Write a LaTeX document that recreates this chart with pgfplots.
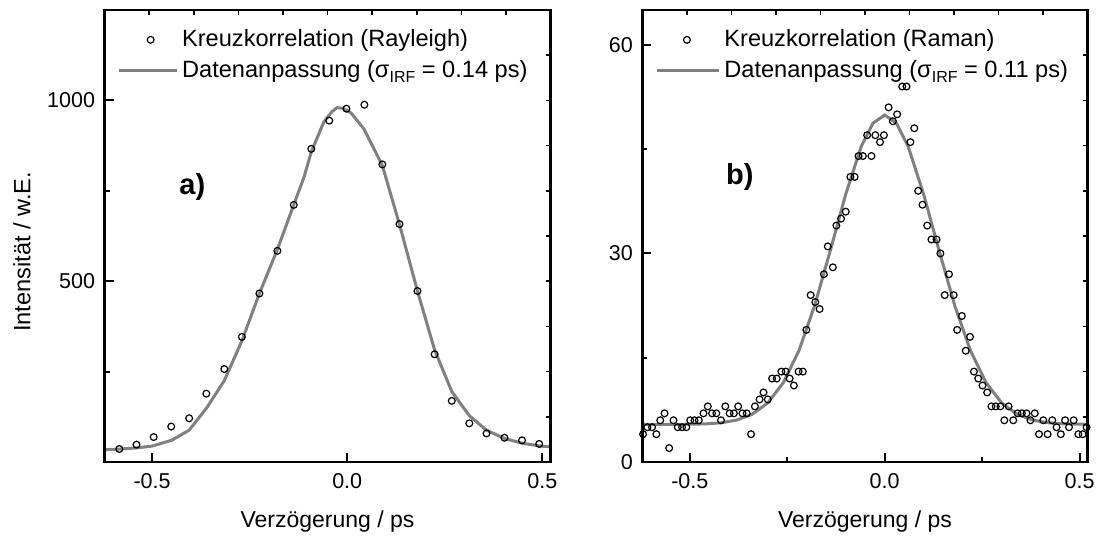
\documentclass[border=0pt]{standalone}
\usepackage{fontspec}
\setmainfont{Liberation Sans}
\usepackage{pgfplots}
\pgfplotsset{compat=1.18}
\definecolor{fitgray}{RGB}{128,128,128}

\newcommand{\sig}{σ\raisebox{-0.45ex}{\fontsize{8}{8}\selectfont IRF}}

\pgfplotsset{
  panel/.style={
    scale only axis,
    height=226pt,
    xmin=-0.622, xmax=0.521,
    axis line style={line width=1.25pt},
    every tick/.style={black, line width=1pt},
    major tick length=4.5pt, minor tick length=2.5pt,
    tick align=inside,
    /pgf/number format/assume math mode=true,
    ticklabel style={font=\fontsize{10.75}{12}\selectfont},
    xticklabel style={yshift=-2pt},
    yticklabel style={xshift=-1.2pt},
    xtick pos=left, ytick pos=left,
    xtick={-0.5,0,0.5}, xticklabels={-0.5,0.0,0.5},
    xlabel={Verzögerung / ps},
    every axis x label/.style={at={(axis description cs:0.5,0)}, anchor=base, yshift=-32.5pt,
      font=\fontsize{11.5}{13}\selectfont},
    legend cell align=left,
    legend style={anchor=north west, draw=none, fill=none, inner sep=0pt,
      font=\fontsize{11.8}{13}\selectfont, row sep=1.2pt,
      /tikz/every even column/.append style={column sep=2.8pt}},
  },
  overlay/.style={
    scale only axis,
    height=226pt,
    xmin=-0.622, xmax=0.521,
    axis line style={line width=1.25pt},
    every tick/.style={black, line width=0.8pt},
    major tick length=2.5pt,
    tick align=inside,
    xtick pos=right, ytick pos=right,
    xticklabels={}, yticklabels={},
    xtick={-0.5077,-0.3934,-0.2791,-0.1648,-0.0505,0.0638,0.1781,0.2924,0.4067},
  },
  fitline/.style={color=fitgray, line width=1.5pt},
  datapts/.style={only marks, mark=o, mark size=1.7pt, black, mark options={line width=0.6pt}},
  markleg/.style 2 args={legend image code/.code={%
    \draw[mark repeat=2,mark phase=2,##1] plot coordinates {(0pt,0pt) (#1,0pt) (#2,0pt)};}},
  lineleg/.style={legend image code/.code={\draw[##1] (0pt,0pt) -- (#1,0pt);}},
}

\begin{document}
\begin{tikzpicture}
\useasboundingbox (0,0) rectangle (551pt,268pt);

% ---------- a) Rayleigh
\begin{axis}[panel, at={(52.25pt,37pt)}, anchor=south west, width=223pt,
    ymin=0, ymax=1250,
    ytick={500,1000}, yticklabels={500,1000}, minor ytick={250,750},
    ylabel={Intensität / w.E.},
    every axis y label/.style={at={(axis description cs:-0.185,0.465)}, rotate=90, anchor=center,
      font=\fontsize{11.8}{13}\selectfont},
    legend style={at={(0.0274,0.966)}},
  ]
  \addplot[datapts, markleg={16pt}{29pt}]
  coordinates {
    (-0.584,36) (-0.540,48) (-0.496,69) (-0.451,98) (-0.405,121)
    (-0.361,189) (-0.315,257) (-0.270,346) (-0.225,466) (-0.179,584)
    (-0.137,711) (-0.092,866) (-0.046,944) (-0.002,977) (0.044,988)
    (0.090,823) (0.134,658) (0.180,473) (0.224,298) (0.268,169)
    (0.313,107) (0.357,79) (0.403,67) (0.448,60) (0.492,50)
  };
  \addlegendentry{Kreuzkorrelation (Rayleigh)}
  \addplot[fitline, lineleg={29pt}]
  coordinates {
    (-0.622,34) (-0.58,36) (-0.54,39) (-0.50,44) (-0.45,60) (-0.405,88)
    (-0.36,150) (-0.315,225) (-0.27,335) (-0.225,466) (-0.18,585)
    (-0.137,711) (-0.11,790) (-0.092,858) (-0.06,940) (-0.04,968)
    (-0.026,980) (-0.01,978) (0.01,965) (0.043,921) (0.09,820)
    (0.134,657) (0.18,473) (0.224,310) (0.268,195) (0.313,128)
    (0.357,88) (0.403,65) (0.448,52) (0.496,44) (0.521,42)
  };
  \addlegendentry{Datenanpassung (\sig{} = 0.14 ps)}
  \node[font=\bfseries\fontsize{14.5}{14.5}\selectfont] at (axis cs:-0.397,760) {a)};
\end{axis}
\begin{axis}[overlay, at={(52.25pt,37pt)}, anchor=south west, width=223pt,
    ymin=0, ymax=1250,
    ytick={125,250,375,500,625,750,875,1000,1125}]
\end{axis}

% ---------- b) Raman
\begin{axis}[panel, at={(321.15pt,37pt)}, anchor=south west, width=222.7pt,
    ymin=0, ymax=65,
    ytick={0,30,60}, yticklabels={0,30,60}, minor ytick={15,45},
    minor xtick={-0.25,0.25},
    legend style={at={(0.0285,0.966)}},
  ]
  \addplot[datapts, markleg={15pt}{31pt}]
  coordinates {
    (-0.620,4) (-0.609,5) (-0.597,5) (-0.586,4) (-0.576,6) (-0.565,7)
    (-0.553,2) (-0.542,6) (-0.531,5) (-0.520,5) (-0.509,5) (-0.499,6)
    (-0.488,6) (-0.477,6) (-0.465,7) (-0.454,8) (-0.443,7) (-0.432,7)
    (-0.420,6) (-0.409,8) (-0.398,7) (-0.387,7) (-0.376,8) (-0.365,7)
    (-0.354,7) (-0.343,4) (-0.333,8) (-0.321,9) (-0.311,10) (-0.300,9)
    (-0.289,12) (-0.277,12) (-0.265,13) (-0.254,13) (-0.244,12) (-0.233,11)
    (-0.221,13) (-0.210,13) (-0.201,19) (-0.190,24) (-0.178,23) (-0.167,22)
    (-0.156,27) (-0.146,31) (-0.133,28) (-0.124,34) (-0.112,35) (-0.100,36)
    (-0.088,41) (-0.077,41) (-0.067,44) (-0.056,44) (-0.045,47) (-0.034,44)
    (-0.024,47) (-0.012,46) (-0.002,47) (0.010,51) (0.021,49) (0.032,50)
    (0.045,54) (0.056,54) (0.066,46) (0.076,48) (0.086,39) (0.097,37)
    (0.109,34) (0.120,32) (0.133,32) (0.143,30) (0.154,24) (0.165,27)
    (0.177,24) (0.186,19) (0.198,21) (0.208,16) (0.219,18) (0.229,13)
    (0.240,12) (0.251,11) (0.263,10) (0.274,8) (0.285,8) (0.297,8)
    (0.307,6) (0.318,8) (0.330,6) (0.341,7) (0.352,7) (0.364,7)
    (0.374,6) (0.385,7) (0.396,4) (0.407,6) (0.418,4) (0.430,6)
    (0.441,5) (0.452,4) (0.463,6) (0.473,5) (0.485,6) (0.497,4)
    (0.508,4) (0.518,5)
  };
  \addlegendentry{Kreuzkorrelation (Raman)}
  \addplot[fitline, lineleg={31pt}]
  coordinates {
    (-0.622,5.40) (-0.52,5.42) (-0.46,5.48) (-0.42,5.64) (-0.38,6.02)
    (-0.34,6.86) (-0.30,8.50) (-0.26,11.42) (-0.22,16.03) (-0.18,22.46)
    (-0.14,30.32) (-0.10,38.50) (-0.06,45.41) (-0.03,48.73) (0.00,49.90)
    (0.03,48.73) (0.06,45.41) (0.10,38.50) (0.14,30.32) (0.18,22.46)
    (0.22,16.03) (0.26,11.42) (0.30,8.50) (0.34,6.86) (0.38,6.02)
    (0.42,5.64) (0.46,5.48) (0.521,5.42)
  };
  \addlegendentry{Datenanpassung (\sig{} = 0.11 ps)}
  \node[font=\bfseries\fontsize{14.5}{14.5}\selectfont] at (axis cs:-0.372,41) {b)};
\end{axis}
\begin{axis}[overlay, at={(321.15pt,37pt)}, anchor=south west, width=222.7pt,
    ymin=0, ymax=65,
    ytick={6.5,13,19.5,26,32.5,39,45.5,52,58.5}]
\end{axis}
\end{tikzpicture}
\end{document}
